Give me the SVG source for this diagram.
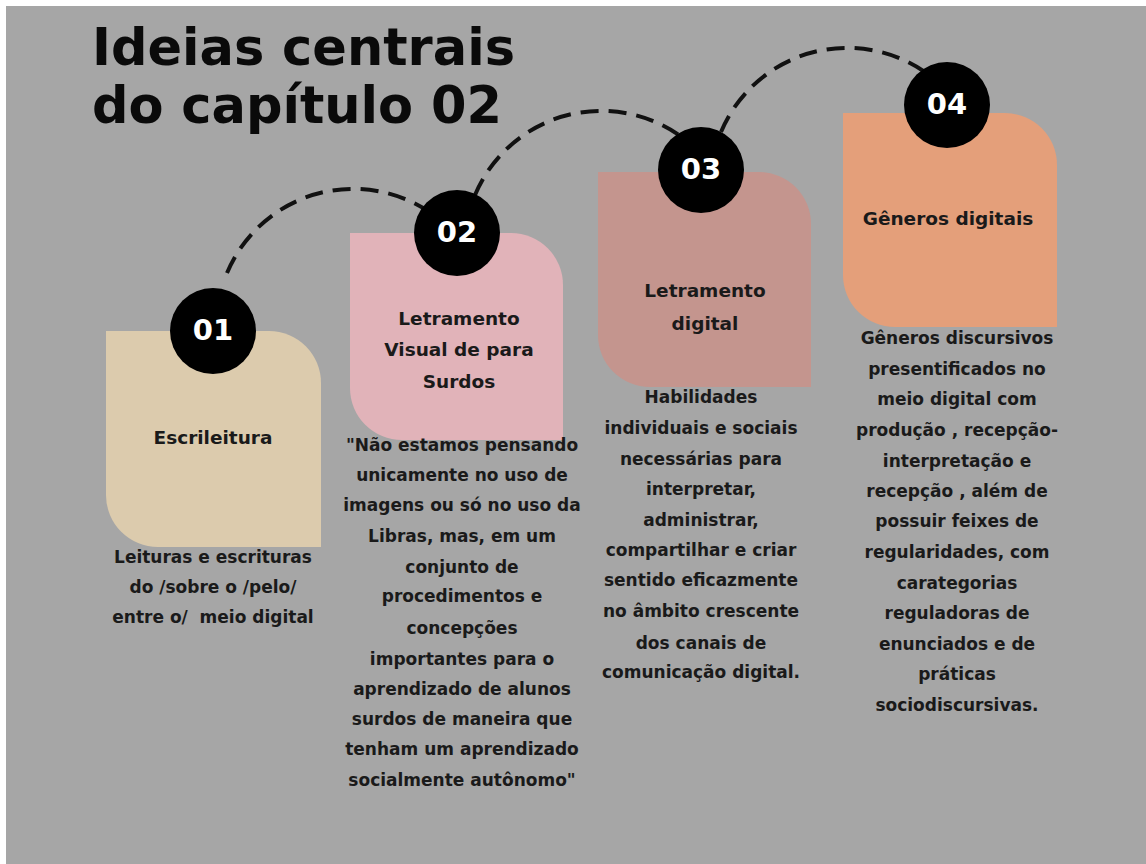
<svg xmlns="http://www.w3.org/2000/svg" width="1146" height="864" viewBox="0 0 1146 864">
<style>
.title{font-family:"DejaVu Sans","Liberation Sans",sans-serif;font-weight:bold;font-size:51px;fill:#0a0a0a}
.num{font-family:"DejaVu Sans","Liberation Sans",sans-serif;font-weight:bold;font-size:29px;fill:#fff;text-anchor:middle}
.lbl{font-family:"DejaVu Sans","Liberation Sans",sans-serif;font-weight:bold;font-size:18.5px;fill:#1a1a1a;text-anchor:middle}
.body{font-family:"DejaVu Sans","Liberation Sans",sans-serif;font-weight:bold;font-size:17px;fill:#1a1a1a;text-anchor:middle}
.dash{fill:none;stroke:#111;stroke-width:4;stroke-dasharray:18 10}
.circ{fill:#000}
</style>
<rect x="0" y="0" width="1146" height="864" fill="#fff"/>
<rect x="6" y="6" width="1140" height="858" fill="#a6a6a6"/>
<text class="title" x="92" y="65">Ideias centrais</text>
<text class="title" x="92" y="123">do capítulo 02</text>
<g id="connectors">
<path class="dash" d="M227,273 A137,137 0 0 1 445,224"/>
<path class="dash" d="M475,195 A137,137 0 0 1 693,146"/>
<path class="dash" d="M721,132 A137,137 0 0 1 939,83"/>
</g>
<g id="node1">
<path d="M106,331 H269 A52,52 0 0 1 321,383 V547 H158 A52,52 0 0 1 106,495 Z" fill="#dccbad"/>
<circle class="circ" cx="213" cy="331" r="43"/>
<text class="num" x="213" y="340">01</text>
<text class="lbl" x="213" y="444">Escrileitura</text>
<text class="body"><tspan x="213" y="563">Leituras e escrituras</tspan><tspan x="213" y="593">do /sobre o /pelo/</tspan><tspan x="213" y="623" style="white-space:pre">entre o/  meio digital</tspan></text>
</g>
<g id="node2">
<path d="M350,233 H511 A52,52 0 0 1 563,285 V440 H402 A52,52 0 0 1 350,388 Z" fill="#e1b3b9"/>
<circle class="circ" cx="457" cy="233" r="43"/>
<text class="num" x="457" y="242">02</text>
<text class="lbl"><tspan x="459" y="325">Letramento</tspan><tspan x="459" y="356">Visual de para</tspan><tspan x="459" y="388">Surdos</tspan></text>
<text class="body"><tspan x="462" y="451">"Não estamos pensando</tspan><tspan x="462" y="481">unicamente no uso de</tspan><tspan x="462" y="511">imagens ou só no uso da</tspan><tspan x="462" y="542">Libras, mas, em um</tspan><tspan x="462" y="573">conjunto de</tspan><tspan x="462" y="602">procedimentos e</tspan><tspan x="462" y="634">concepções</tspan><tspan x="462" y="665">importantes para o</tspan><tspan x="462" y="695">aprendizado de alunos</tspan><tspan x="462" y="725">surdos de maneira que</tspan><tspan x="462" y="755">tenham um aprendizado</tspan><tspan x="462" y="786">socialmente autônomo"</tspan></text>
</g>
<g id="node3">
<path d="M598,172 H759 A52,52 0 0 1 811,224 V387 H650 A52,52 0 0 1 598,335 Z" fill="#c4958e"/>
<circle class="circ" cx="701" cy="170" r="43"/>
<text class="num" x="701" y="179">03</text>
<text class="lbl"><tspan x="705" y="297">Letramento</tspan><tspan x="705" y="330">digital</tspan></text>
<text class="body"><tspan x="701" y="403">Habilidades</tspan><tspan x="701" y="434">individuais e sociais</tspan><tspan x="701" y="465">necessárias para</tspan><tspan x="701" y="495">interpretar,</tspan><tspan x="701" y="526">administrar,</tspan><tspan x="701" y="556">compartilhar e criar</tspan><tspan x="701" y="586">sentido eficazmente</tspan><tspan x="701" y="617">no âmbito crescente</tspan><tspan x="701" y="649">dos canais de</tspan><tspan x="701" y="678">comunicação digital.</tspan></text>
</g>
<g id="node4">
<path d="M843,113 H1005 A52,52 0 0 1 1057,165 V327 H895 A52,52 0 0 1 843,275 Z" fill="#e49f7a"/>
<circle class="circ" cx="947" cy="105" r="43"/>
<text class="num" x="947" y="114">04</text>
<text class="lbl" x="948" y="225">Gêneros digitais</text>
<text class="body"><tspan x="957" y="344">Gêneros discursivos</tspan><tspan x="957" y="375">presentificados no</tspan><tspan x="957" y="405">meio digital com</tspan><tspan x="957" y="436">produção , recepção-</tspan><tspan x="957" y="467">interpretação e</tspan><tspan x="957" y="497">recepção , além de</tspan><tspan x="957" y="527">possuir feixes de</tspan><tspan x="957" y="558">regularidades, com</tspan><tspan x="957" y="589">carategorias</tspan><tspan x="957" y="619">reguladoras de</tspan><tspan x="957" y="650">enunciados e de</tspan><tspan x="957" y="680">práticas</tspan><tspan x="957" y="711">sociodiscursivas.</tspan></text>
</g>
</svg>
